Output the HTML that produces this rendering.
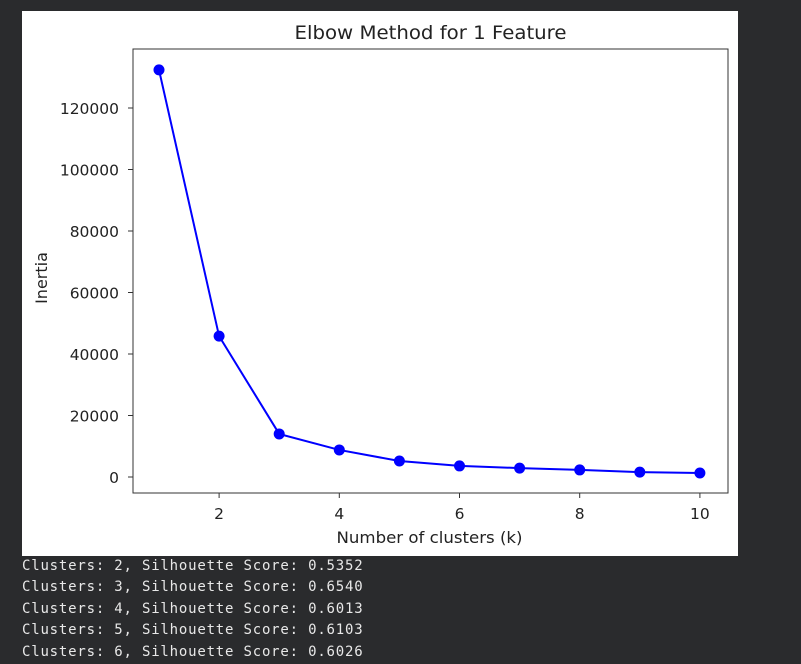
<!DOCTYPE html>
<html><head><meta charset="utf-8"><style>
body{margin:0;width:801px;height:664px;background:#2a2b2d;overflow:hidden;position:relative;font-family:"DejaVu Sans","Liberation Sans",sans-serif}
#fig{position:absolute;left:22px;top:11px;width:716px;height:545px;background:#fff}
#out{position:absolute;left:22px;top:556px;font-family:"DejaVu Sans Mono","Liberation Mono",monospace;font-size:14px;letter-spacing:0.8px;color:#e8e8e8;line-height:21.4px;white-space:pre}
</style></head><body>
<div id="fig"></div>
<svg id="chart" width="801" height="664" style="position:absolute;left:0;top:0"></svg>
<div id="out"><div>Clusters: 2, Silhouette Score: 0.5352</div><div>Clusters: 3, Silhouette Score: 0.6540</div><div>Clusters: 4, Silhouette Score: 0.6013</div><div>Clusters: 5, Silhouette Score: 0.6103</div><div>Clusters: 6, Silhouette Score: 0.6026</div></div>
<script>
const ks=[1,2,3,4,5,6,7,8,9,10];
const inertia=[132400,45800,14000,8800,5200,3600,2900,2300,1600,1300];
const yTicks=[0,20000,40000,60000,80000,100000,120000];
const xTicks=[2,4,6,8,10];
const L=133,R=728,T=49,B=493;
const X=v=>159+(v-1)*60.1;
const Y=v=>477-v*369/120000;
const ns="http://www.w3.org/2000/svg";
const svg=document.getElementById('chart');
function mk(t,a,txt){const e=document.createElementNS(ns,t);for(const k in a)e.setAttribute(k,a[k]);if(txt!=null)e.textContent=txt;svg.appendChild(e);return e;}
let e=mk('rect',{x:L,y:T,width:R-L,height:B-T,fill:'none',stroke:'#333','stroke-width':1});


yTicks.forEach(v=>{
 let t=mk('line',{x1:L-5,x2:L,y1:Y(v),y2:Y(v),stroke:'#333'});
 
 
 let l=mk('text',{x:L-14,y:Y(v)+6,'text-anchor':'end','font-size':15.5,fill:'#222'},String(v));
 
 
});
xTicks.forEach(v=>{
 let t=mk('line',{x1:X(v),x2:X(v),y1:B,y2:B+5,stroke:'#333'});
 
 
 let l=mk('text',{x:X(v),y:B+26,'text-anchor':'middle','font-size':15.5,fill:'#222'},String(v));
 
 
});
let p=mk('polyline',{points:ks.map((k,i)=>X(k)+','+Y(inertia[i])).join(' '),fill:'none',stroke:'#0000ff','stroke-width':2});


ks.forEach((k,i)=>{
 let c=mk('circle',{cx:X(k),cy:Y(inertia[i]),r:5.5,fill:'#0000ff'});
 
 
});
let t=mk('text',{x:(L+R)/2,y:39,'text-anchor':'middle','font-size':19,fill:'#222',textLength:272,lengthAdjust:'spacingAndGlyphs'},'Elbow Method for 1 Feature');


let xl=mk('text',{x:(L+R)/2-1,y:543,'text-anchor':'middle','font-size':16,fill:'#222',textLength:186,lengthAdjust:'spacingAndGlyphs'},'Number of clusters (k)');


let yl=mk('text',{x:47,y:278,'text-anchor':'middle','font-size':16,fill:'#222',transform:'rotate(-90 47 278)'},'Inertia');


</script>
</body></html>
